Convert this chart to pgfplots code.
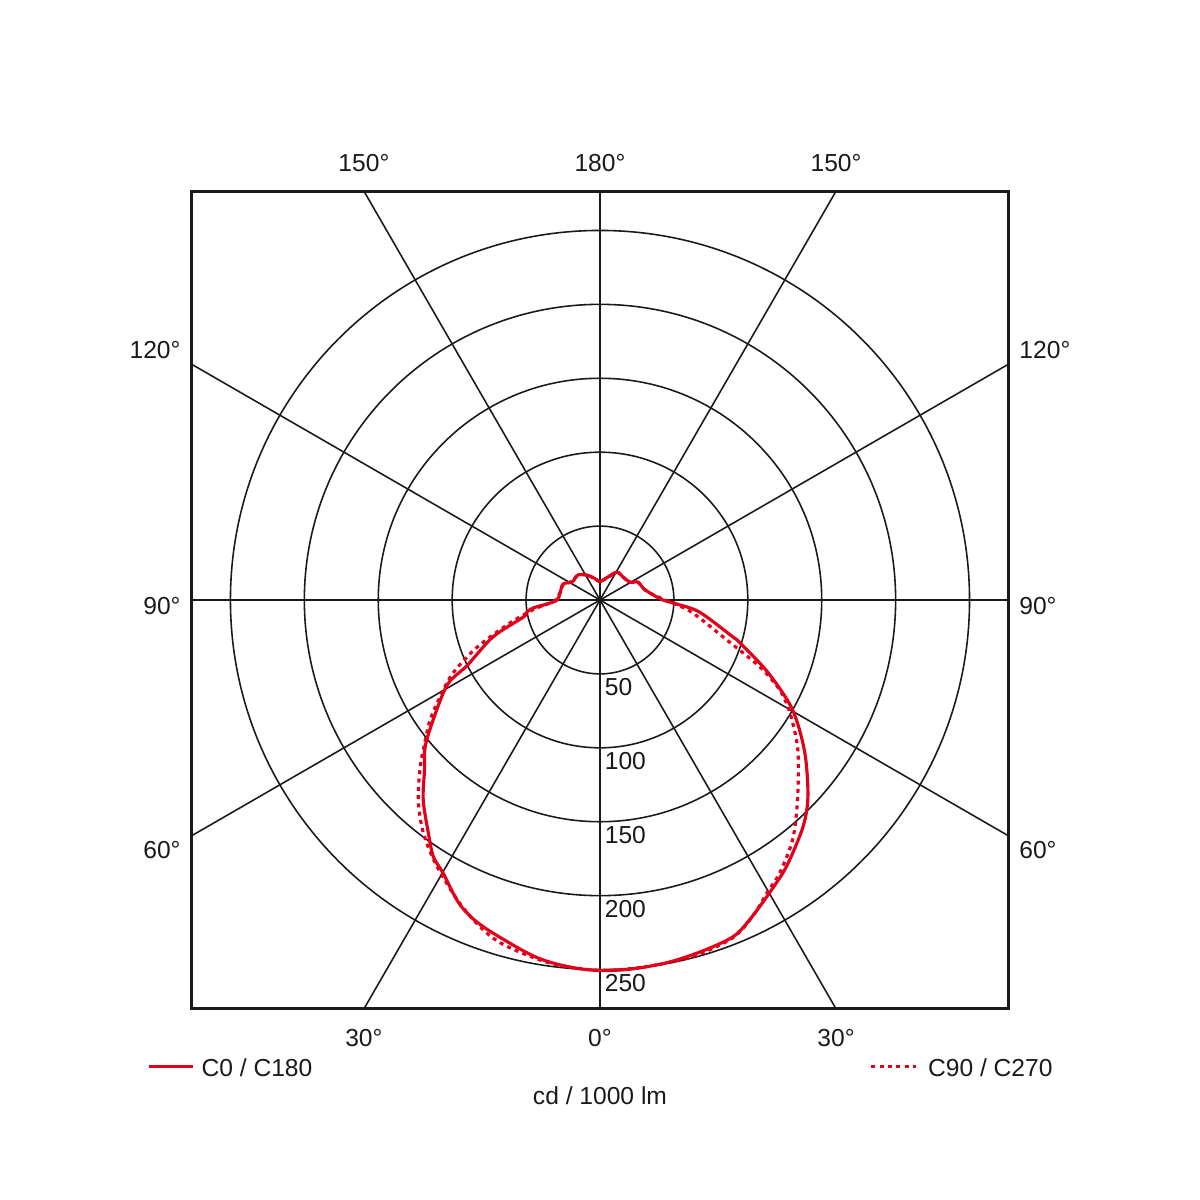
\documentclass[border=0pt]{standalone}
\usepackage{pgfplots}
\pgfplotsset{compat=1.18}
\usepackage{pgfplotstable}
\usepackage{fontspec}
\setmainfont{Liberation Sans}

\definecolor{ldcred}{HTML}{E2001A}
\definecolor{ink}{HTML}{1A1A1A}

% gamma angle (deg, negative = left half) and intensity in cd/1000 lm
\pgfplotstableread{
a I
-180 12.2
-161 16.5
-152.5 19
-139 22.5
-123 22.5
-113.4 27.2
-100 27.4
-90 29
-85.7 36
-83.2 45.6
-80.7 50
-77.5 53
-71 76.5
-63.8 100
-61 118
-54.3 139
-50 154.4
-46 165
-41.5 180.5
-36.4 195.7
-33 207
-29.9 213
-24.7 226.8
-19.7 234.7
-10.6 245
-5 249
0 250.7
5 250.5
10.5 249.5
16 247.5
21.5 245
25.1 238.8
30 229
35 220
41.8 206
46.6 193.6
53.3 172.8
60.3 150
66.6 124
73 99
74.5 93.2
83 68
87 52.1
90 42.6
98 34.1
105.6 30.2
115.3 28.4
121 23.6
135 22
148.7 22.1
161 16.5
180 12.2
}\czero

\pgfplotstableread{
a I
-180 12.2
-161 16
-152 19
-139 22.5
-123 23
-113 27
-100 27.5
-90 30
-86.6 33.8
-82 45
-75.7 62.8
-69 89
-63.6 111
-58.8 126.5
-54.8 140.6
-51.3 151.4
-47.1 166
-42.3 182.7
-37.2 197.7
-31.4 211.4
-23.7 228.5
-16.7 241
-7.8 248
0 250.5
7 250
14.6 249.2
21.5 245.5
26 237
29.9 227.6
33.4 221
38.8 208
44.7 190
52.9 167.8
59.3 149.4
63.4 136
67.3 117.2
72.5 90
82 63.5
87.6 49.4
90 44
98 34
105.6 30
115 28.4
121 23.6
135 22
148.7 22
161 16
180 12.2
}\cninety

\begin{document}
\fontsize{7pt}{8.4pt}\selectfont
\begin{tikzpicture}[
    grid line/.style={ink, line width=0.45pt},
    lbl/.style={text=ink, inner sep=0pt, anchor=base},
]
\path[use as bounding box] (-60mm,-60mm) rectangle (60mm,60mm);
\begin{axis}[
    at={(0,0)}, anchor=center,
    width=81.7mm, height=81.7mm, scale only axis,
    xmin=-276.35, xmax=276.35, ymin=-276.35, ymax=276.35,
    ticks=none, clip=false,
    axis line style={ink, line width=0.6pt},
]
% polar grid
\draw[grid line] (axis cs:0,0) circle[radius=50];
\draw[grid line] (axis cs:0,0) circle[radius=100];
\draw[grid line] (axis cs:0,0) circle[radius=150];
\draw[grid line] (axis cs:0,0) circle[radius=200];
\draw[grid line] (axis cs:0,0) circle[radius=250];
\draw[grid line] (axis cs:0,-276.35) -- (axis cs:0,276.35);
\draw[grid line] (axis cs:-276.35,0) -- (axis cs:276.35,0);
\draw[grid line] (axis cs:-159.55,276.35) -- (axis cs:159.55,-276.35);
\draw[grid line] (axis cs:159.55,276.35) -- (axis cs:-159.55,-276.35);
\draw[grid line] (axis cs:-276.35,-159.55) -- (axis cs:276.35,159.55);
\draw[grid line] (axis cs:-276.35,159.55) -- (axis cs:276.35,-159.55);

% curves
\addplot[ldcred, line width=0.9pt, smooth, tension=0.5]
    table[x expr={\thisrow{I}*sin(\thisrow{a})}, y expr={-\thisrow{I}*cos(\thisrow{a})}] {\czero};
\addplot[ldcred, line width=0.9pt, dash pattern=on 0.4mm off 0.43mm, smooth, tension=0.5]
    table[x expr={\thisrow{I}*sin(\thisrow{a})}, y expr={-\thisrow{I}*cos(\thisrow{a})}] {\cninety};

% radial values
\node[lbl, anchor=base west] at (axis cs:2.8,-64.8) {50};
\node[lbl, anchor=base west] at (axis cs:2.8,-114.8) {100};
\node[lbl, anchor=base west] at (axis cs:2.8,-164.8) {150};
\node[lbl, anchor=base west] at (axis cs:2.8,-214.8) {200};
\node[lbl, anchor=base west] at (axis cs:2.8,-265) {250};

% angle labels
\node[lbl] at (axis cs:0,289.8) {180°};
\node[lbl] at (axis cs:-159.7,289.8) {150°};
\node[lbl] at (axis cs:159.7,289.8) {150°};
\node[lbl] at (axis cs:-301,163.2) {120°};
\node[lbl] at (axis cs:301,163.2) {120°};
\node[lbl] at (axis cs:-296.3,-9.5) {90°};
\node[lbl] at (axis cs:296.3,-9.5) {90°};
\node[lbl] at (axis cs:-296.3,-175.2) {60°};
\node[lbl] at (axis cs:296.3,-175.2) {60°};
\node[lbl] at (axis cs:-159.7,-302.2) {30°};
\node[lbl] at (axis cs:0,-302.2) {0°};
\node[lbl] at (axis cs:159.7,-302.2) {30°};

% legend and unit
\draw[ldcred, line width=0.9pt] (axis cs:-305.4,-315.6) -- (axis cs:-275.6,-315.6);
\node[lbl, anchor=base west] at (axis cs:-270,-322.5) {C0 / C180};
\draw[ldcred, line width=0.9pt, dash pattern=on 0.4mm off 0.43mm] (axis cs:183.6,-315.6) -- (axis cs:213.8,-315.6);
\node[lbl, anchor=base west] at (axis cs:221.5,-322.5) {C90 / C270};
\node[lbl] at (axis cs:0,-341.5) {cd / 1000 lm};
\end{axis}
\end{tikzpicture}
\end{document}
